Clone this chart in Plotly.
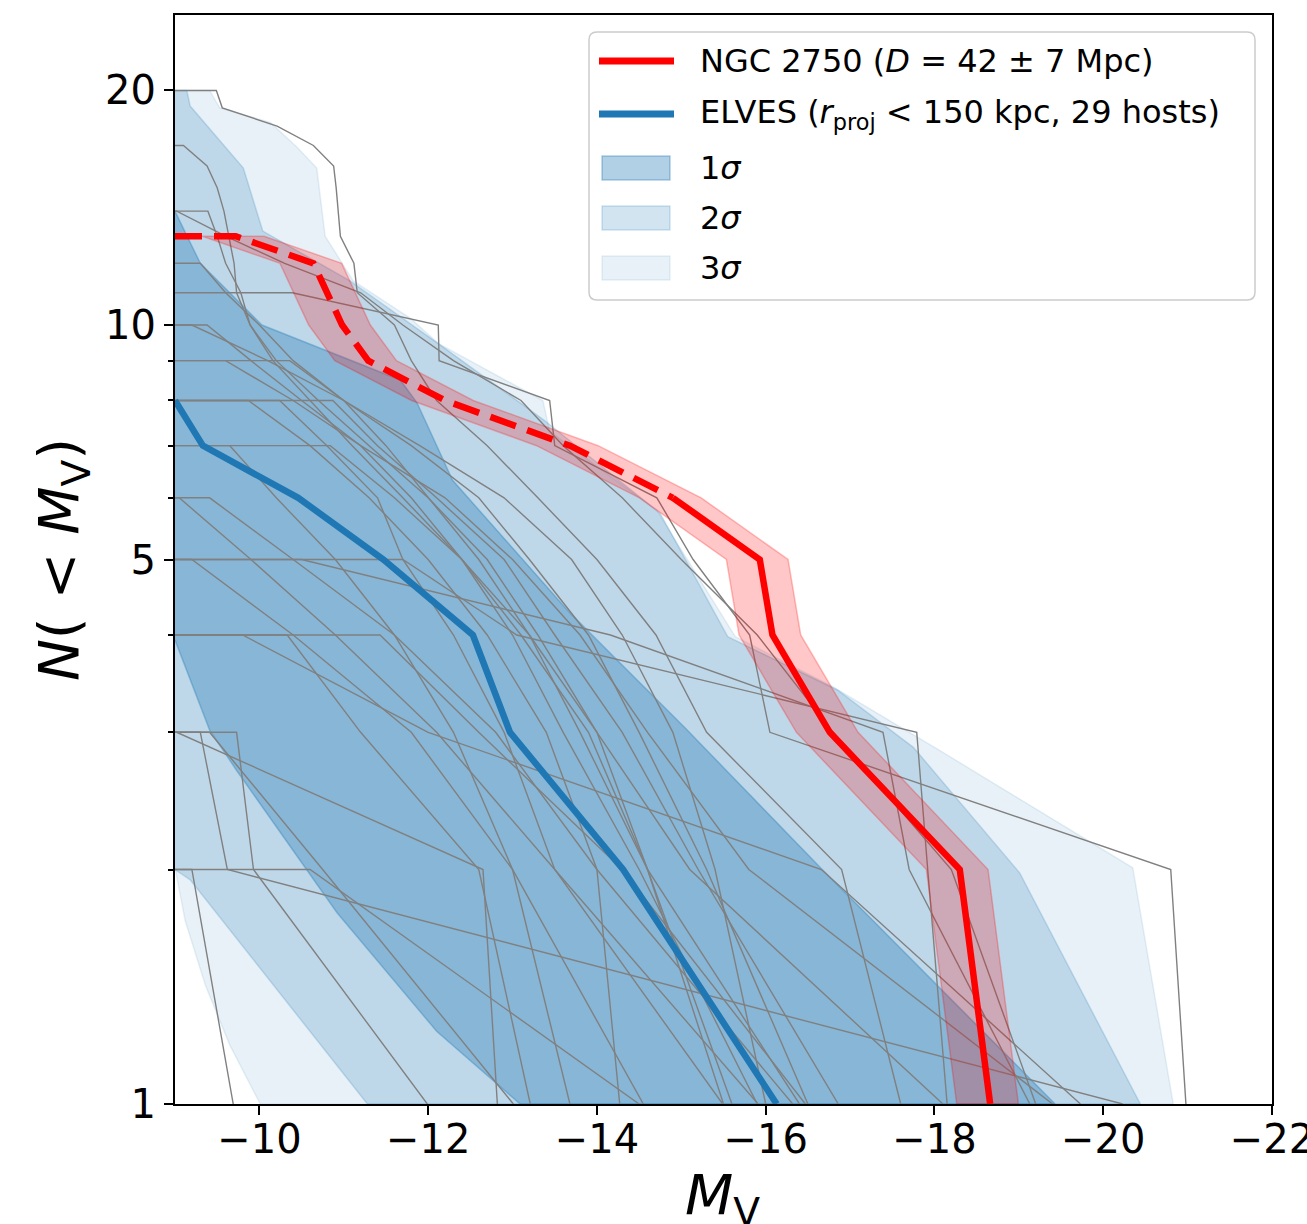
import numpy as np
import plotly.graph_objects as go

# ---------------- data ----------------
# NGC 2750 cumulative satellite LF (centre), N(<M_V)
ngc_M = [-9.0, -9.72, -10.64, -10.80, -10.98, -11.29, -12.20, -13.68, -14.90,
         -15.93, -16.08, -16.76, -18.30, -18.66]
ngc_N = [13, 13, 12, 11, 10, 9, 8, 7, 6, 5, 4, 3, 2, 1]
ngc_dM_bright = -0.335   # D = 49 Mpc
ngc_dM_faint = 0.396     # D = 35 Mpc
ngc_solid_index = 8      # solid from N = 6 onwards

# ELVES median
elves_M = [-9.0, -9.33, -10.46, -11.47, -12.53, -12.97, -14.31, -16.13]
elves_N = [8, 7, 6, 5, 4, 3, 2, 1]

# ELVES scatter bands (edges as M, N)
sig1_up_M = [-9.0, -9.30, -10.03, -11.67, -11.87, -12.29, -13.68, -15.07, -16.67, -19.43]
sig1_up_N = [14, 12, 10, 8.5, 7.94, 6.32, 4.27, 3.02, 2.0, 1.0]
sig1_lo_M = [-9.0, -9.41, -9.73, -10.92, -12.10, -13.09]
sig1_lo_N = [3.94, 3.02, 2.68, 1.76, 1.24, 1.0]

sig2_up_M = [-9.0, -9.14, -9.18, -9.81, -10.04, -11.07, -12.14, -13.38, -14.75,
             -15.55, -16.85, -17.75, -19.01, -20.44]
sig2_up_N = [20, 20, 19.1, 15.9, 13.2, 11.4, 9.43, 7.54, 5.73, 3.98, 3.40, 2.87, 1.98, 1.0]
sig2_lo_M = [-9.0, -9.18, -11.28]
sig2_lo_N = [2.0, 1.94, 1.0]

sig3_up_M = [-9.0, -9.41, -9.53, -10.13, -10.45, -10.68, -10.78, -11.11, -11.79,
             -12.12, -13.36, -13.44, -14.71, -15.64, -16.80, -18.07, -20.35, -20.83]
sig3_up_N = [20, 20, 19.0, 18.2, 16.9, 15.9, 13.0, 11.4, 10.2, 9.47, 8.0, 7.3, 5.78,
             3.98, 3.43, 2.84, 2.01, 1.0]
sig3_lo_M = [-9.0, -9.12, -9.36, -9.65, -10.01]
sig3_lo_N = [2.01, 1.72, 1.42, 1.19, 1.0]

# individual ELVES hosts: M_V of satellites, N = len .. 1
hosts = [
    [-9.49, -9.56, -10.21, -10.64, -10.88, -10.91, -10.93, -10.96, -11.12, -11.16,
     -11.60, -11.80, -12.10, -12.70, -13.30, -14.00, -14.70, -15.30, -16.90, -17.60],
    [-9.10, -9.38, -9.50, -9.58, -9.64, -9.70, -9.73, -9.89, -10.16, -10.60, -11.10,
     -11.70, -12.40, -13.10, -13.90, -14.60, -15.60],
    [-9.39, -9.50, -9.60, -9.78, -9.89, -10.20, -10.70, -11.30, -12.00, -12.70, -13.30,
     -14.00, -14.60, -16.40],
    [-9.02, -9.60, -10.30, -11.20, -11.70, -12.30, -13.10, -13.60, -14.30, -15.00,
     -15.90, -16.80, -18.20, -19.20],
    [-9.30, -9.60, -10.00, -10.40, -11.00, -11.50, -12.00, -12.60, -13.20, -13.80,
     -14.60, -15.50],
    [-10.39, -12.12, -12.13, -13.44, -13.50, -14.71, -15.14, -15.81, -16.05, -20.80, -20.98],
    [-9.38, -9.90, -10.50, -11.20, -11.80, -12.40, -13.00, -13.60, -14.50, -15.90],
    [-9.20, -10.10, -11.00, -11.90, -12.90, -13.70, -14.30, -14.90, -15.40, -16.00],
    [-10.36, -11.00, -11.80, -12.60, -13.20, -13.90, -14.50, -15.30, -16.50],
    [-9.60, -10.40, -11.20, -12.20, -13.00, -13.80, -14.60, -15.80, -19.40],
    [-10.87, -11.40, -12.10, -12.90, -13.50, -14.30, -15.20, -16.86],
    [-9.87, -10.60, -11.30, -12.00, -12.70, -13.40, -14.00, -14.27],
    [-10.24, -10.80, -11.40, -11.70, -12.30, -12.90, -13.50, -15.49],
    [-10.84, -11.60, -12.40, -13.20, -14.00, -15.10, -18.10],
    [-9.65, -10.20, -10.90, -11.60, -12.30, -13.00, -13.68],
    [-9.41, -10.40, -11.60, -12.80, -14.00, -16.32],
    [-9.05, -9.90, -10.90, -12.10, -13.50, -15.91],
    [-11.70, -13.05, -17.79, -17.92, -18.15],
    [-9.20, -10.40, -11.80, -13.00, -14.55],
    [-10.50, -14.16, -17.39, -17.70, -19.13],
    [-11.43, -12.60, -14.30, -16.47],
    [-10.33, -11.20, -12.60, -13.21],
    [-9.80, -12.00, -16.66, -19.73],
    [-9.02, -12.65, -12.82],
    [-9.30, -9.62, -20.23],
    [-9.73, -9.93, -11.99],
    [-9.41, -10.75, -13.01],
    [-9.20, -9.69],
    [-10.60, -14.50],
]

x_ticks = [-10, -12, -14, -16, -18, -20, -22]
x_ticktext = ["\u221210", "\u221212", "\u221214", "\u221216", "\u221218", "\u221220", "\u221222"]
y_ticks = [1, 5, 10, 20]
y_ticktext = ["1", "5", "10", "20"]
y_minor = [2, 3, 4, 6, 7, 8, 9]

x_title = "<i>M</i><sub>V</sub>"
y_title = "<i>N</i>( &lt; <i>M</i><sub>V</sub>)"
legend_labels = [
    "NGC 2750 (<i>D</i> = 42 \u00b1 7 Mpc)",
    "ELVES (<i>r</i><sub>proj</sub> &lt; 150 kpc, 29 hosts)",
    "1<i>\u03c3</i>", "2<i>\u03c3</i>", "3<i>\u03c3</i>",
]

# ---------------- styles ----------------
BLUE = "31,119,180"
A1, A2, A3 = 0.35, 0.20, 0.10
FONT = "DejaVu Sans"

W, H = 1307, 1224
L, R, T, B = 175, 35, 15, 120
PW, PH = W - L - R, H - T - B


def px2paper(px, py):
    return (px - L) / PW, (H - B - py) / PH


fig = go.Figure()


def band(upM, upN, loM, loN, alpha):
    xs = list(upM) + list(loM[::-1])
    ys = list(upN) + list(loN[::-1])
    fig.add_trace(go.Scatter(
        x=xs, y=ys, mode="lines", fill="toself",
        fillcolor=f"rgba({BLUE},{alpha})",
        line=dict(color=f"rgba({BLUE},{alpha})", width=1.5),
        hoverinfo="skip", showlegend=False))


band(sig3_up_M, sig3_up_N, sig3_lo_M, sig3_lo_N, A3)
band(sig2_up_M, sig2_up_N, sig2_lo_M, sig2_lo_N, A2)
band(sig1_up_M, sig1_up_N, sig1_lo_M, sig1_lo_N, A1)

for h in hosts:
    n = len(h)
    xs = [-8.5] + h
    ys = [n] + list(range(n, 0, -1))
    fig.add_trace(go.Scatter(x=xs, y=ys, mode="lines",
                             line=dict(color="rgb(128,128,128)", width=1.4),
                             hoverinfo="skip", showlegend=False))

# NGC 2750 distance band
bright = [m + ngc_dM_bright for m in ngc_M]
faint = [m + ngc_dM_faint for m in ngc_M]
fig.add_trace(go.Scatter(
    x=bright + faint[::-1], y=ngc_N + ngc_N[::-1], mode="lines", fill="toself",
    fillcolor="rgba(255,0,0,0.22)", line=dict(color="rgba(255,0,0,0.25)", width=1.5),
    hoverinfo="skip", showlegend=False))

# ELVES median
fig.add_trace(go.Scatter(x=elves_M, y=elves_N, mode="lines",
                         line=dict(color=f"rgb({BLUE})", width=6.5),
                         hoverinfo="skip", showlegend=False))

# NGC 2750 line: dashed (incomplete) and solid
fig.add_trace(go.Scatter(x=ngc_M[:ngc_solid_index + 1], y=ngc_N[:ngc_solid_index + 1],
                         mode="lines", line=dict(color="red", width=6.5, dash="27px,12px"),
                         hoverinfo="skip", showlegend=False))
fig.add_trace(go.Scatter(x=ngc_M[ngc_solid_index:], y=ngc_N[ngc_solid_index:],
                         mode="lines", line=dict(color="red", width=6.5),
                         hoverinfo="skip", showlegend=False))

# ---------------- axes ----------------
fig.update_xaxes(range=[-9, -22], tickmode="array", tickvals=x_ticks, ticktext=x_ticktext,
                 ticks="outside", ticklen=9, tickwidth=2, tickcolor="black",
                 ticklabeloverflow="allow", ticklabelstandoff=-10,
                 showline=True, mirror=True, linecolor="black", linewidth=2,
                 showgrid=False, zeroline=False,
                 tickfont=dict(family=FONT, size=40, color="black"))
fig.update_yaxes(type="log", range=[0, np.log10(25)], tickmode="array",
                 tickvals=y_ticks, ticktext=y_ticktext,
                 ticks="outside", ticklen=9, tickwidth=2, tickcolor="black",
                 showline=True, mirror=True, linecolor="black", linewidth=2,
                 showgrid=False, zeroline=False,
                 tickfont=dict(family=FONT, size=40, color="black"),
                 minor=dict(tickmode="array", tickvals=y_minor, ticks="outside",
                            ticklen=5, tickwidth=1.5, tickcolor="black", showgrid=False),
                 title=dict(text=y_title, font=dict(family=FONT, size=56, color="black"),
                            standoff=8))

# ---------------- legend (drawn) ----------------
shapes = []
x0, y0 = px2paper(589, 300)
x1, y1 = px2paper(1255, 32)
rx, ry = 8 / PW, 8 / PH
path = (f"M {x0+rx},{y0} L {x1-rx},{y0} Q {x1},{y0} {x1},{y0+ry} L {x1},{y1-ry} "
        f"Q {x1},{y1} {x1-rx},{y1} L {x0+rx},{y1} Q {x0},{y1} {x0},{y1-ry} "
        f"L {x0},{y0+ry} Q {x0},{y0} {x0+rx},{y0} Z")
shapes.append(dict(type="path", path=path, xref="paper", yref="paper",
                   fillcolor="rgba(255,255,255,0.8)", line=dict(color="#cccccc", width=1.5),
                   layer="above"))
row_y = [61, 114, 168, 218, 268]
for py, col in [(row_y[0], "red"), (row_y[1], f"rgb({BLUE})")]:
    lx0, ly = px2paper(599, py)
    lx1, _ = px2paper(674, py)
    shapes.append(dict(type="line", xref="paper", yref="paper", x0=lx0, x1=lx1, y0=ly, y1=ly,
                       line=dict(color=col, width=7), layer="above"))
for py, a in zip(row_y[2:], [A1, A2, A3]):
    px0, py0 = px2paper(602, py + 12)
    px1, py1 = px2paper(670, py - 12)
    shapes.append(dict(type="rect", xref="paper", yref="paper", x0=px0, x1=px1, y0=py0, y1=py1,
                       fillcolor=f"rgba({BLUE},{a})", line=dict(color=f"rgba({BLUE},{a})", width=1.5),
                       layer="above"))

annotations = []
for py, txt in zip(row_y, legend_labels):
    ax, ay = px2paper(698, py)
    annotations.append(dict(x=ax, y=ay, xref="paper", yref="paper", text=txt, showarrow=False,
                            xanchor="left", yanchor="middle",
                            font=dict(family=FONT, size=32, color="black")))

# x-axis title (placed as annotation so it can sit lower than the margin clamp allows)
tx, ty = px2paper(722, 1198)
annotations.append(dict(x=tx, y=ty, xref="paper", yref="paper", text=x_title, showarrow=False,
                        xanchor="center", yanchor="middle",
                        font=dict(family=FONT, size=56, color="black")))

fig.update_layout(width=W, height=H, margin=dict(l=L, r=R, t=T, b=B, autoexpand=False),
                  paper_bgcolor="white", plot_bgcolor="white",
                  shapes=shapes, annotations=annotations, showlegend=False,
                  font=dict(family=FONT, color="black"))

fig.write_html("out.html")
